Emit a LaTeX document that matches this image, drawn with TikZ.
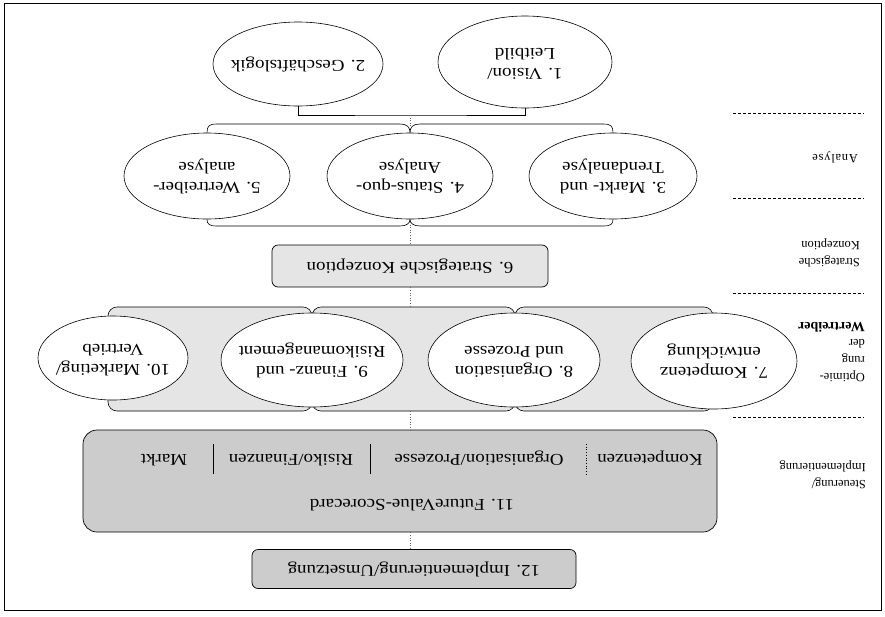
\documentclass[tikz,border=0pt]{standalone}
\usepackage{fontspec}
\setmainfont[FakeStretch=1.15]{Liberation Serif}
\newfontfamily\sidefont{Liberation Serif}
\usetikzlibrary{shapes.geometric,backgrounds,calc}
\newcommand\flip[2][c]{\rotatebox[origin=c]{180}{\begin{tabular}{@{}#1@{}}#2\end{tabular}}}
\newcommand\ellnode[5]{%
  \node[ell, minimum width=#3, minimum height=#4] (#1) at #2 {};
  \node[etxt] (#1t) at (#1) {\flip{#5}};}
\begin{document}
\begin{tikzpicture}[x=1pt,y=-1pt,
  ell/.style={draw, ellipse, fill=white, inner sep=0pt, line width=0.6pt},
  etxt/.style={inner sep=0pt, font=\fontsize{16.5}{20}\selectfont},
  tent/.style={draw, fill=gray!20, rounded corners=9pt, inner sep=0pt, line width=0.6pt},
  lbox/.style={draw, fill=gray!20, rounded corners=6pt, inner sep=0pt, line width=0.7pt, font=\fontsize{16.5}{20}\selectfont},
  dbox/.style={draw, fill=gray!40, rounded corners=14pt, inner sep=0pt, line width=0.7pt},
  dtxt/.style={inner sep=0pt, font=\fontsize{16.5}{20}\selectfont},
  conn/.style={line width=0.6pt},
  dotconn/.style={dotted, line width=0.6pt, black!60},
  sepline/.style={dash pattern=on 3pt off 2pt, line width=0.6pt},
  side/.style={inner sep=0pt, anchor=east, font=\sidefont\fontsize{12.5}{17}\selectfont}
]
\useasboundingbox (0,0) rectangle (885,616);
\draw[line width=1pt] (4,3) rectangle (881,610);

% right-side dashed separators
\draw[sepline] (733,113) -- (864,113);
\draw[sepline] (733,198) -- (864,198);
\draw[sepline] (733,293) -- (864,293);
\draw[sepline] (733,417) -- (864,417);

% side labels
\node[side] (l1) at (858,158) {\flip[l]{\addfontfeature{LetterSpace=6}Analyse}};
\node[side] (l2) at (860,253) {\flip[l]{Strategische\\Konzeption}};
\node[side] (l3) at (865,351) {\flip[l]{Optimie-\\rung\\der\\\fontsize{14}{17}\selectfont\bfseries Wertreiber}};
\node[side] (l4) at (866,475) {\flip[l]{Steuerung/\\Implementierung}};

% top ellipses
\ellnode{e1}{(525,62)}{174pt}{92pt}{1. Vision/\\Leitbild}
\ellnode{e2}{(298,64)}{170pt}{84pt}{2. Geschäftslogik}

% analysis ellipses
\ellnode{e3}{(613,176)}{168pt}{86pt}{3. Markt- und\\Trendanalyse}
\ellnode{e4}{(410,176)}{166pt}{86pt}{4. Status-quo-\\Analyse}
\ellnode{e5}{(207,176)}{166pt}{86pt}{5. Wertreiber-\\analyse}

\coordinate (bj) at (410,115);
\draw[conn] (e1.south) |- (bj) -| (e2.south);

\begin{pgfonlayer}{background}
\draw[conn] (e5.north) .. controls (207,126) and (209,124) .. (217,124) -- (400,124)
  .. controls (407,124) and (410,127) .. (e4.north)
  .. controls (410,127) and (413,124) .. (420,124) -- (603,124)
  .. controls (611,124) and (613,126) .. (e3.north);
\draw[conn] (e5.south) .. controls (207,224) and (209,226) .. (217,226) -- (400,226)
  .. controls (407,226) and (410,223) .. (e4.south)
  .. controls (410,223) and (413,226) .. (420,226) -- (603,226)
  .. controls (611,226) and (613,224) .. (e3.south);
\end{pgfonlayer}

% strategic conception
\node[lbox, minimum width=276pt, minimum height=42pt] (b6) at (410,266) {\flip{6. Strategische Konzeption}};

% optimisation group
\node[tent, minimum width=204pt, minimum height=104pt] (t1) at (210,359) {};
\node[tent, minimum width=203pt, minimum height=104pt] (t2) at (413.5,359) {};
\node[tent, minimum width=198pt, minimum height=104pt] (t3) at (614,359) {};
\ellnode{e7}{(714,361)}{166pt}{96pt}{7. Kompetenz\\entwicklung}
\ellnode{e8}{(514,360)}{172pt}{94pt}{8. Organisation\\und Prozesse}
\ellnode{e9}{(312,360)}{182pt}{94pt}{9. Finanz- und\\Risikomanagement}
\ellnode{e10}{(113,358)}{150pt}{84pt}{10. Marketing/\\Vertrieb}

% scorecard
\node[dbox, minimum width=634pt, minimum height=102pt] (b11) at (400,481) {};
\node[dtxt] (k1) at (164,458) {\flip{Markt}};
\node[dtxt] (k2) at (291,458) {\flip{Risiko/Finanzen}};
\node[dtxt] (k3) at (479,458) {\flip{Organisation/Prozesse}};
\node[dtxt] (k4) at (650,458) {\flip{Kompetenzen}};
\draw[conn] (213,444) -- (213,474);
\draw[conn] (370,444) -- (370,474);
\draw[dotted, line width=0.7pt] (586,444) -- (586,474);
\node[dtxt] (b11t) at (412,503) {\flip{11. FutureValue-Scorecard}};

\node[dbox, rounded corners=6pt, minimum width=324pt, minimum height=39pt] (b12) at (414,569) {};
\node[dtxt] (b12t) at (b12) {\flip{12. Implementierung/Umsetzung}};

% dotted connectors
\draw[dotconn] (bj) -- (e4.north);
\draw[dotconn] (e4.south) -- (b6.north);
\draw[dotconn] (b6.south) -- (b6.south |- t2.north);
\draw[dotconn] (b6 |- t2.south) -- (b6 |- b11.north);
\draw[dotconn] (b6 |- b11.south) -- (b6 |- b12.north);
\end{tikzpicture}
\end{document}
